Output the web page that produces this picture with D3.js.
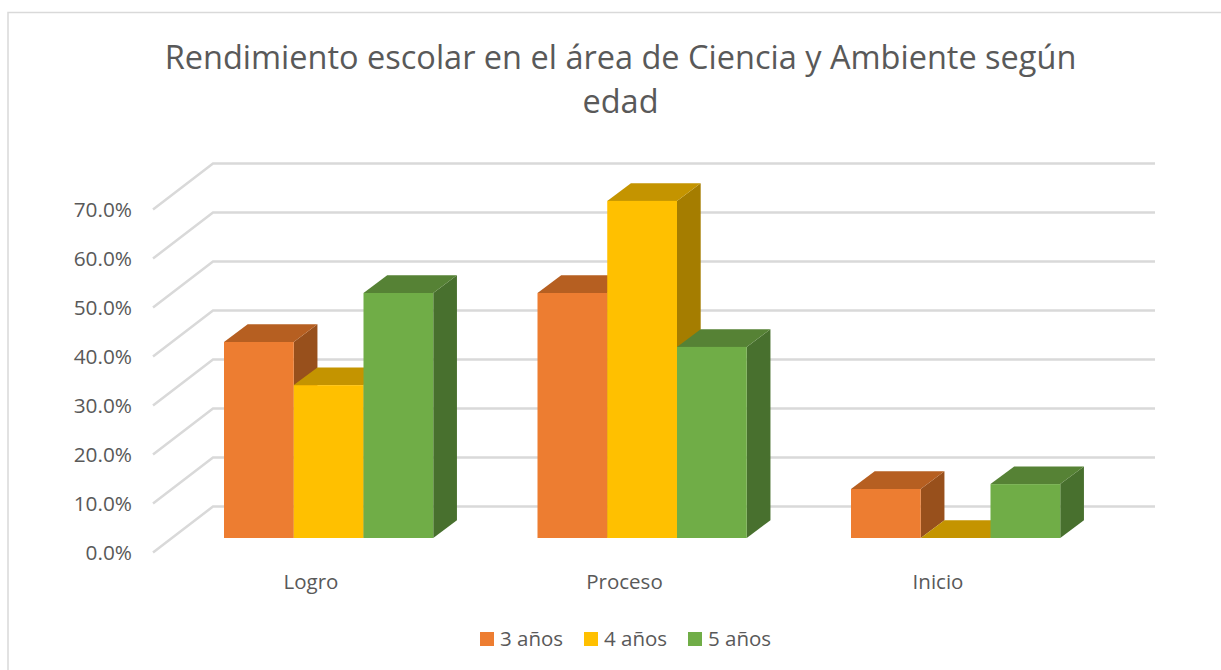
<!DOCTYPE html>
<html><head><meta charset="utf-8">
<script src="https://cdn.jsdelivr.net/npm/d3@7"></script>
<style>html,body{margin:0;padding:0;background:#fff;overflow:hidden}text{font-family:"Open Sans","Noto Sans",sans-serif;fill:#595959}</style>
</head><body><svg id="c" width="1221" height="670"></svg>
<script>
const categories = ["Logro", "Proceso", "Inicio"];
const seriesNames = ["3 años", "4 años", "5 años"];
const values3 = [40, 50, 10];
const values4 = [31.2, 68.8, 0];
const values5 = [50, 39, 11];
const tickValues = [0, 10, 20, 30, 40, 50, 60, 70];
const titleLines = ["Rendimiento escolar en el área de Ciencia y Ambiente según", "edad"];
const frontColors = ["#ED7D31", "#FFC000", "#70AD47"];
const topColors = ["#B65F21", "#C49400", "#568235"];
const sideColors = ["#98501C", "#A57D00", "#48702E"];

const svg = d3.select("#c");
const allValues = [values3, values4, values5];

// frame
svg.append("path").attr("d", "M8,670V12.5H1221").attr("fill", "none").attr("stroke", "#D9D9D9").attr("stroke-width", 1.5);

// title
svg.selectAll(".t").data(titleLines).join("text").attr("class", "t")
  .attr("x", 620.5).attr("y", (d, i) => 69 + i * 44).attr("text-anchor", "middle")
  .attr("font-size", 32.5).text(d => d);

const y = d3.scaleLinear().domain([0, 70]).range([538, 195]);
const x0 = d3.scaleBand().domain(categories).range([172.25, 1112.75]).paddingInner(0).paddingOuter(0);
const x1 = d3.scaleBand().domain([0, 1, 2]).range([51.75, 261]);
const wallDx = 60, wallDy = -46, wallFront = 14.5;
const dx = 23.7, dy = -17.7;

// gridlines
const grid = svg.append("g").attr("fill", "none").attr("stroke", "#D9D9D9").attr("stroke-width", 2.5);
tickValues.forEach(v => {
  const yF = y(v) + wallFront;
  grid.append("path").attr("d", d3.line()([[153, yF], [153 + wallDx, yF + wallDy], [1155, yF + wallDy]]));
});

// y tick labels
svg.selectAll(".yt").data(tickValues).join("text").attr("class", "yt")
  .attr("x", 132).attr("y", d => y(d) + 21.5).attr("text-anchor", "end")
  .attr("font-size", 20.8).text(d => d3.format(".1f")(d) + "%");

// category labels
svg.selectAll(".xt").data(categories).join("text").attr("class", "xt")
  .attr("x", d => x0(d) + x0.bandwidth() / 2 - 18).attr("y", 589).attr("text-anchor", "middle")
  .attr("font-size", 20.5).text(d => d);

// bars
const line = d3.line();
categories.forEach((c, ci) => {
  seriesNames.forEach((s, si) => {
    const v = allValues[si][ci];
    const xl = x0(c) + x1(si), xr = xl + x1.bandwidth();
    const yb = y(0), yt = y(v);
    const g = svg.append("g");
    g.append("path").attr("d", line([[xr, yb], [xr + dx, yb + dy], [xr + dx, yt + dy], [xr, yt]]) + "Z").attr("fill", sideColors[si]);
    g.append("path").attr("d", line([[xl, yt], [xl + dx, yt + dy], [xr + dx, yt + dy], [xr, yt]]) + "Z").attr("fill", topColors[si]);
    g.append("rect").attr("x", xl).attr("y", yt).attr("width", xr - xl).attr("height", yb - yt).attr("fill", frontColors[si]);
  });
});

// legend
const legX = d3.scaleOrdinal().domain(seriesNames).range([480, 584, 688]);
const leg = svg.selectAll(".lg").data(seriesNames).join("g").attr("class", "lg");
leg.append("rect").attr("x", d => legX(d)).attr("y", 632).attr("width", 14).attr("height", 14).attr("fill", (d, i) => frontColors[i]);
leg.append("text").attr("x", d => legX(d) + 20).attr("y", 646).attr("font-size", 20.5).text(d => d);
</script></body></html>
